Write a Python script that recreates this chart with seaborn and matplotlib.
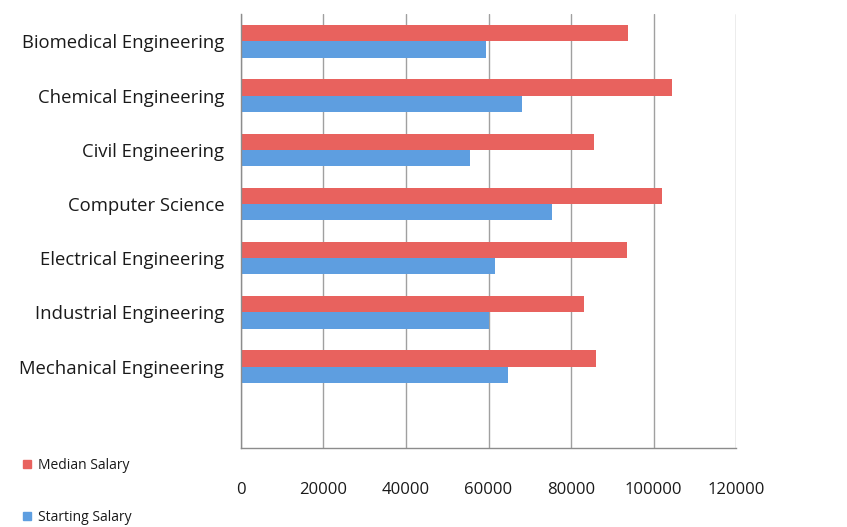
import pandas as pd
import matplotlib.pyplot as plt
import seaborn as sns

# Values
majors = ['Biomedical Engineering', 'Chemical Engineering', 'Civil Engineering',
          'Computer Science', 'Electrical Engineering', 'Industrial Engineering',
          'Mechanical Engineering']
median_salary = [93800, 104400, 85600, 102100, 93500, 83200, 86000]
starting_salary = [59400, 68100, 55500, 75300, 61600, 60200, 64800]
series = ['Median Salary', 'Starting Salary']
x_ticks = [0, 20000, 40000, 60000, 80000, 100000, 120000]

df = pd.DataFrame({
    'Major': majors * 2,
    'Salary': median_salary + starting_salary,
    'Series': [series[0]] * len(majors) + [series[1]] * len(majors),
})

sns.set_style('white')
plt.rcParams['font.family'] = ['Open Sans', 'DejaVu Sans']

fig = plt.figure(figsize=(8.47, 5.27), dpi=100)
ax = fig.add_axes([0.2845, 0.15, 0.5845, 0.823])

palette = {'Median Salary': '#E8625E', 'Starting Salary': '#5E9EE0'}
sns.barplot(data=df, x='Salary', y='Major', hue='Series', hue_order=series,
            order=majors, palette=palette, orient='h', width=0.6,
            saturation=1, linewidth=0, ax=ax, legend=False)

# the original has one empty category slot at the bottom
ax.set_ylim(len(majors) + 0.5, -0.5)
ax.set_xlim(0, 120000)
ax.set_xticks(x_ticks)
ax.set_xticklabels([str(t) for t in x_ticks], fontsize=12, color='#1a1a1a')
ax.set_yticks(range(len(majors)))
ax.set_yticklabels(majors, fontsize=13.3, color='#1a1a1a')
ax.set_xlabel('')
ax.set_ylabel('')

ax.xaxis.grid(True, color='#a0a0a0', linewidth=1)
ax.set_axisbelow(True)
for s in ['top', 'right']:
    ax.spines[s].set_visible(False)
for s in ['left', 'bottom']:
    ax.spines[s].set_color('#8c8c8c')
    ax.spines[s].set_linewidth(1)

# y ticks sit between categories in the original, draw them as minor ticks
ax.set_yticks([i + 0.5 for i in range(len(majors) + 1)], minor=True)
ax.tick_params(axis='y', which='major', length=0, pad=12)
ax.tick_params(axis='y', which='minor', length=5, color='#8c8c8c', direction='out')
ax.tick_params(axis='x', which='major', length=5, color='#8c8c8c', direction='inout', pad=22)

handles = [plt.Line2D([], [], marker='s', linestyle='', markersize=6,
                      color=palette[s]) for s in series]
fig.legend(handles, series, loc='lower left', bbox_to_anchor=(0.01, -0.02),
           frameon=False, fontsize=10, handletextpad=0.4, labelspacing=2.7,
           handlelength=0.8, labelcolor='#1a1a1a')

fig.savefig('out.png', dpi=100)
